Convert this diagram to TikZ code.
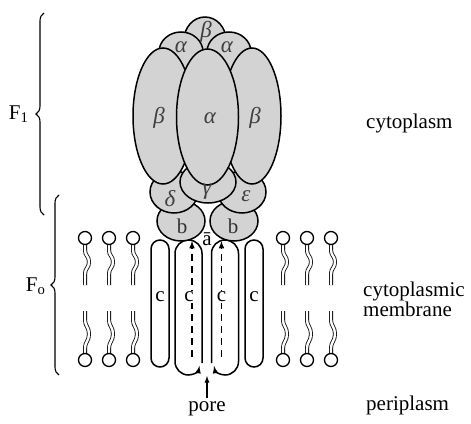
\documentclass[tikz,border=0pt]{standalone}
\usepackage{fontspec}
\setmainfont{Liberation Serif}
\usetikzlibrary{decorations.pathreplacing}
\definecolor{protein}{RGB}{211,211,211}
\tikzset{
  >=latex,
}
\tikzstyle{every node}=[font=\fontsize{21}{20}\selectfont]
\tikzstyle{subunit}=[fill=protein,draw,line width=1.5pt]
\tikzstyle{greek}=[text=black!75,font=\fontsize{23}{20}\selectfont\itshape]
\tikzstyle{head}=[fill=white,draw,line width=1.3pt]
\tikzstyle{tail}=[double distance=2.4pt,line width=0.8pt]
\tikzstyle{ring}=[line width=1.5pt,rounded corners=9pt]
\tikzstyle{halfchannel}=[line width=1.5pt,dash pattern=on 7pt off 5pt,->]
\tikzstyle{bracket}=[decorate,decoration={brace,amplitude=8pt},line width=1.1pt]

\begin{document}
\begin{tikzpicture}[x=1pt,y=-1pt]
    \useasboundingbox (0,0) rectangle (471,423);
    % lipids
    \foreach \x in {85,109,133,283,307,331} {
      \draw[tail] (\x,244) -- (\x,250) .. controls (\x,256) and (\x+4,256) .. (\x+4,262)
        .. controls (\x+4,268) and (\x,268) .. (\x,274) -- (\x,285);
      \draw[tail] (\x,311) -- (\x,320) .. controls (\x,326) and (\x+4,327) .. (\x+4,334)
        .. controls (\x+4,341) and (\x,342) .. (\x,348) -- (\x,354);
      \draw[head] (\x,238) circle (6.5);
      \draw[head] (\x,360) circle (6.5);
    }
    % c ring
    \draw[ring] (151,240) rectangle (169,367);
    \draw[ring] (245,240) rectangle (263,367);
    \draw[line width=1.5pt,->] (202,363) -- (202,253.5) .. controls (202,246) and (196,240) .. (188.5,240)
      .. controls (181,240) and (175,246) .. (175,253.5) -- (175,361.5)
      .. controls (175,369) and (181,375) .. (188.5,375) .. controls (194,375) and (198.5,371) .. (199.5,366);
    \draw[line width=1.5pt,->] (211.5,363) -- (211.5,253.5) .. controls (211.5,246) and (217.5,240) .. (225,240)
      .. controls (232.5,240) and (238.5,246) .. (238.5,253.5) -- (238.5,361.5)
      .. controls (238.5,369) and (232.5,375) .. (225,375) .. controls (219.5,375) and (215,371) .. (214,366);
    \draw[halfchannel] (192,357) -- (192,241);
    \draw[halfchannel] (221.5,357) -- (221.5,241);
    \node (c1) at (160,297) {c};
    \node[fill=white,inner sep=0.5pt] (c2) at (189,297) {c};
    \node[fill=white,inner sep=0.5pt] (c3) at (221.5,297) {c};
    \node (c4) at (254,297) {c};
    % F1 head and stalk
    \draw[subunit] (181,221) ellipse [x radius=24, y radius=20];
    \draw[subunit] (234,221) ellipse [x radius=24, y radius=20];
    \draw[subunit] (174,192) ellipse [x radius=24, y radius=21];
    \draw[subunit] (242,192) ellipse [x radius=24, y radius=21];
    \draw[subunit] (208,182) ellipse [x radius=28, y radius=21];
    \draw[subunit] (205,40) ellipse [x radius=21, y radius=23];
    \draw[subunit] (181,52) ellipse [x radius=22, y radius=20];
    \draw[subunit] (229,52) ellipse [x radius=22, y radius=20];
    \draw[subunit] (163,116) ellipse [x radius=30, y radius=68];
    \draw[subunit] (252,116) ellipse [x radius=29, y radius=68];
    \draw[subunit] (207.5,117) ellipse [x radius=31, y radius=68];
    \node[text=black!80] (bL) at (182,226) {b};
    \node[text=black!80] (bR) at (233,226) {b};
    \node[greek] (delta) at (170,199) {δ};
    \node[greek] (gamma) at (207,192) {γ};
    \node[greek] (eps) at (246,196) {ε};
    \node[greek] (betaT) at (206,32) {β};
    \node[greek] (alphaL) at (181,47) {α};
    \node[greek] (alphaR) at (227,47) {α};
    \node[greek] (betaL) at (159,118) {β};
    \node[greek] (alphaC) at (210,118) {α};
    \node[greek] (betaR) at (255,118) {β};
    \node (a) at (207,239) {\=a};
    % pore
    \node[anchor=base] (pore) at (207,411) {pore};
    \coordinate (poretip) at (207,376);
    \draw[->,line width=1.3pt] (pore) -- (poretip);
    % braces
    \draw[bracket] (44,215) -- (44,13);
    \node[anchor=base east] (F1) at (32,119) {F\textsubscript{1}};
    \draw[bracket] (59,375) -- (59,195);
    \node[anchor=base east] (Fo) at (49,291) {F\textsubscript{o}};
    % compartments
    \node[anchor=base west,inner sep=0pt] (cyto) at (366,128) {cytoplasm};
    \node[anchor=west,align=left,inner sep=0pt] (memb) at (363,299) {cytoplasmic\\membrane};
    \node[anchor=base west,inner sep=0pt] (peri) at (366,410) {periplasm};
  \end{tikzpicture}
\end{document}
